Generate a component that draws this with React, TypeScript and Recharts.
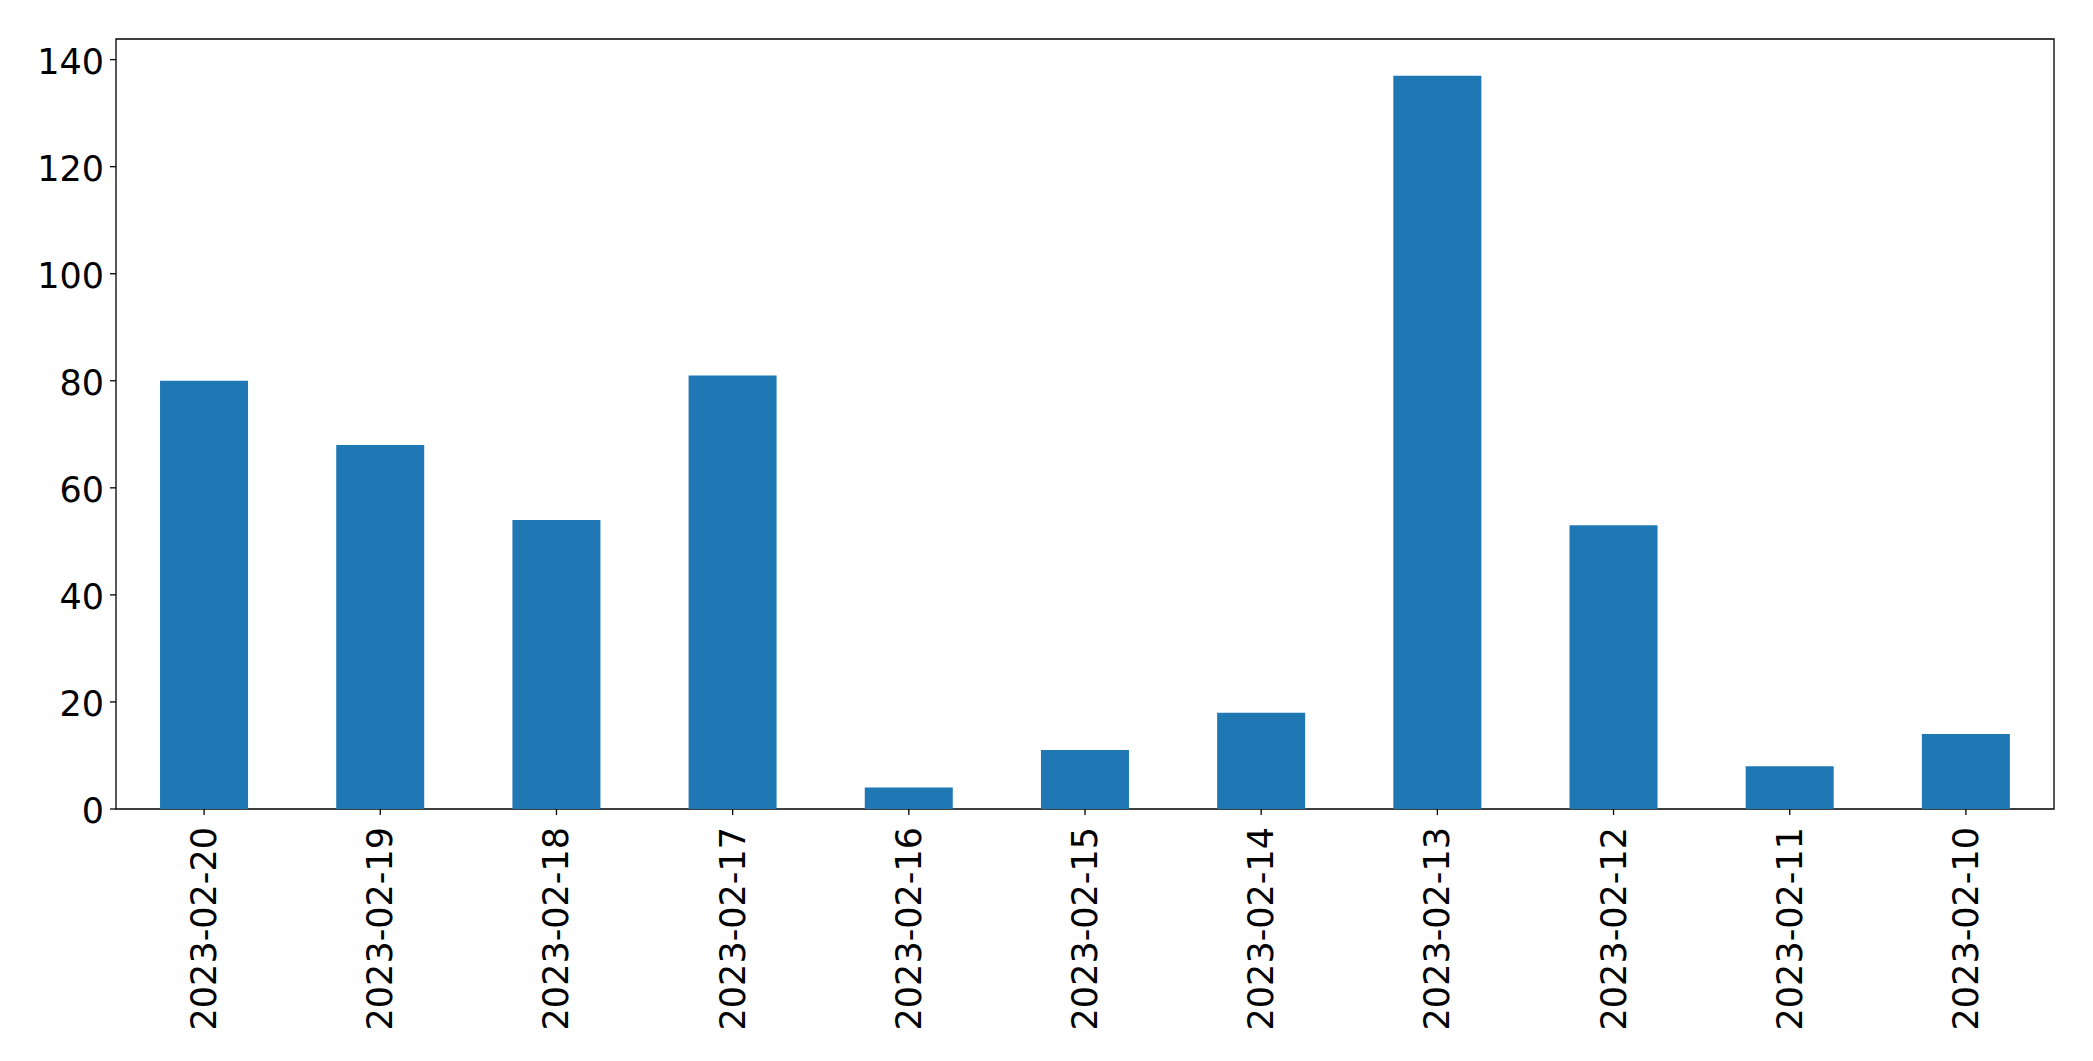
import React from "react";
import { BarChart, Bar, XAxis, YAxis, ReferenceArea } from "recharts";

const dates = [
  "2023-02-20",
  "2023-02-19",
  "2023-02-18",
  "2023-02-17",
  "2023-02-16",
  "2023-02-15",
  "2023-02-14",
  "2023-02-13",
  "2023-02-12",
  "2023-02-11",
  "2023-02-10",
];
const counts = [80, 68, 54, 81, 4, 11, 18, 137, 53, 8, 14];
const yTicks = [0, 20, 40, 60, 80, 100, 120, 140];
const yMax = 143.85;

const data = dates.map((d, i) => ({ date: d, count: counts[i] }));

const FONT = "'DejaVu Sans', sans-serif";
const FS = 35;

function XTick({ x, y, payload }: any) {
  const ty = y + 18;
  return (
    <g>
      <line x1={x} x2={x} y1={y} y2={y + 6} stroke="#000" strokeWidth={1.3} />
      <text
        x={x}
        y={ty}
        transform={`rotate(-90, ${x}, ${ty})`}
        textAnchor="end"
        dominantBaseline="central"
        fontFamily={FONT}
        fontSize={FS}
        fill="#000"
      >
        {payload.value}
      </text>
    </g>
  );
}

function YTick({ x, y, payload }: any) {
  return (
    <g>
      <line x1={x - 6} x2={x} y1={y} y2={y} stroke="#000" strokeWidth={1.3} />
      <text
        x={x - 12}
        y={y + 2}
        textAnchor="end"
        dominantBaseline="central"
        fontFamily={FONT}
        fontSize={FS}
        fill="#000"
      >
        {payload.value}
      </text>
    </g>
  );
}

export default function App() {
  return (
    <div style={{ width: 2093, height: 1061, background: "#fff" }}>
      <style>{"body{margin:0}"}</style>
      <BarChart
        width={2093}
        height={1061}
        data={data}
        margin={{ top: 39, right: 39, bottom: 0, left: 0 }}
        barCategoryGap="25%"
      >
        <XAxis
          dataKey="date"
          height={252}
          tickLine={false}
          tickSize={0}
          tickMargin={0}
          tick={<XTick />}
          interval={0}
          axisLine={false}
        />
        <YAxis
          width={116}
          domain={[0, yMax]}
          ticks={yTicks}
          tickLine={false}
          tickSize={0}
          tickMargin={0}
          tick={<YTick />}
          allowDataOverflow
          axisLine={false}
        />
        <Bar dataKey="count" fill="#1f77b4" isAnimationActive={false} />
        <ReferenceArea
          y1={0}
          y2={yMax}
          fill="none"
          fillOpacity={0}
          stroke="#000"
          strokeWidth={1.3}
          ifOverflow="visible"
        />
      </BarChart>
    </div>
  );
}
